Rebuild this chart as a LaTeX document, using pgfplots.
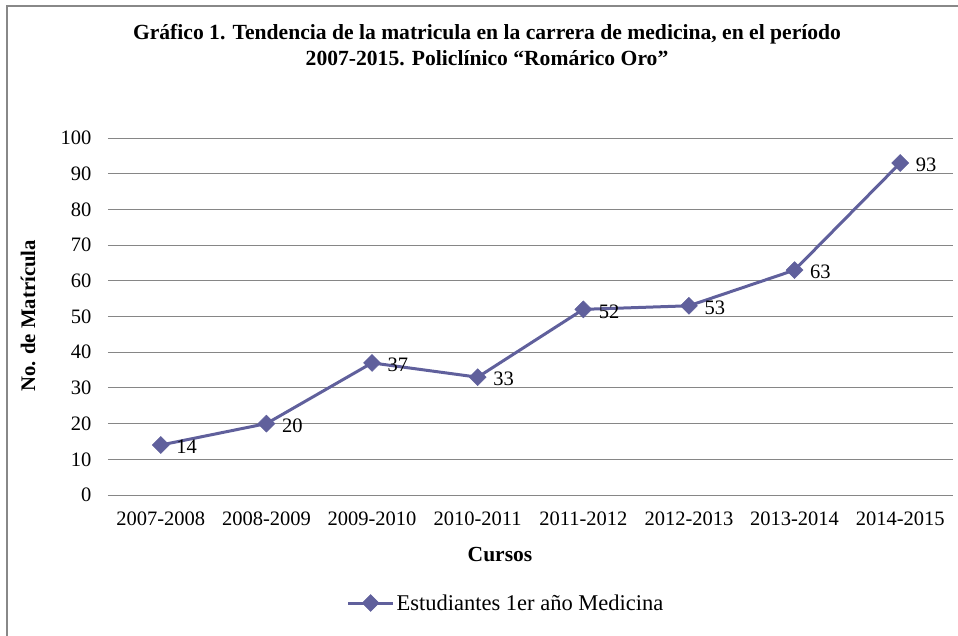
\documentclass[border=0pt]{standalone}
\usepackage{fontspec}
\setmainfont{Liberation Serif}
\usepackage{pgfplots}
\pgfplotsset{compat=1.18}
\definecolor{ser}{RGB}{96,96,156}
\definecolor{gridc}{RGB}{134,134,134}
\definecolor{framec}{RGB}{136,136,136}
\pgfplotstableread{
x y
0 14
1 20
2 37
3 33
4 52
5 53
6 63
7 93
}\datatable
\begin{document}
\begin{tikzpicture}[x=1pt,y=1pt]
\useasboundingbox (-108,-140) rectangle (850,495);
\draw[line width=2pt, framec] (-101,-150) -- (-101,489) -- (860,489);
\begin{axis}[
  at={(0,0)}, anchor=south west,
  scale only axis, width=845pt, height=357pt,
  xmin=-0.5, xmax=7.5, ymin=0, ymax=100,
  ytick={0,10,...,100},
  xtick={0,...,7},
  xticklabels={2007-2008,2008-2009,2009-2010,2010-2011,2011-2012,2012-2013,2013-2014,2014-2015},
  axis line style={draw=none},
  tick style={draw=none},
  ymajorgrids,
  major grid style={gridc, line width=1pt},
  /pgf/number format/assume math mode=true,
  tick label style={font=\fontsize{20.5}{24}\selectfont},
  yticklabel style={xshift=-13pt},
  xticklabel style={yshift=-13pt},
  legend style={at={(0.471,-0.3025)}, anchor=center, draw=none, fill=none,
    font=\fontsize{22.5}{26}\selectfont, inner sep=0pt},
  legend image code/.code={\draw[mark repeat=2,mark phase=2] plot coordinates {(0pt,0pt) (22.5pt,0pt) (45pt,0pt)};},
  clip=false,
]
\addplot[ser, line width=3pt, mark=square*, mark size=6pt,
  mark options={rotate=45, fill=ser, draw=ser, line width=0.5pt},
  nodes near coords={\pgfmathprintnumber{\pgfplotspointmeta}},
  every node near coord/.style={anchor=west, xshift=12pt, yshift=-2pt, black,
    font=\fontsize{20.5}{24}\selectfont},
] table[x=x,y=y] {\datatable};
\addlegendentry{Estudiantes 1er año Medicina}
\end{axis}
\node[font=\bfseries\fontsize{21.6}{26}\selectfont, align=center] at (379,450)
  {Gráfico 1. Tendencia de la matricula en la carrera de medicina, en el período\\2007-2015. Policlínico “Romárico Oro”};
\node[font=\bfseries\fontsize{20.7}{24}\selectfont, rotate=90] at (-80,179) {No. de Matrícula};
\node[font=\bfseries\fontsize{21.5}{24}\selectfont] at (392,-60) {Cursos};
\end{tikzpicture}
\end{document}
